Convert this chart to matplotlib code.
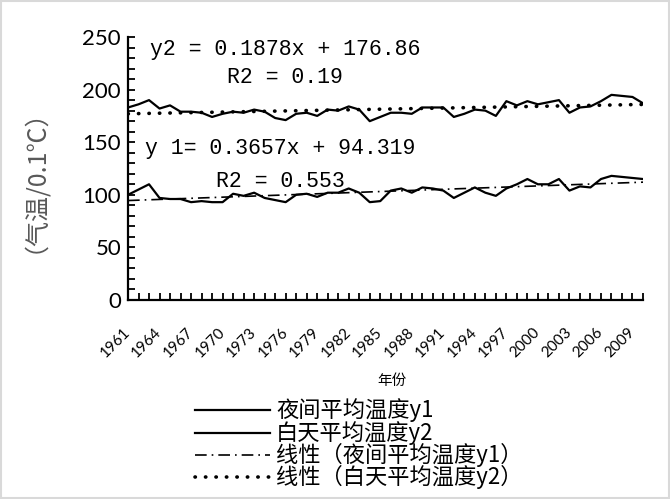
import numpy as np
import matplotlib
matplotlib.use('Agg')
import matplotlib.pyplot as plt
from matplotlib.ticker import MultipleLocator, FixedLocator
from matplotlib.lines import Line2D
from matplotlib.patches import Rectangle

# data (0.1 degC)
years = list(range(1961, 2011))
night_y1 = [100, 105, 110, 97, 96, 96, 93, 94, 93, 93,
            101, 99, 102, 97, 95, 93, 100, 101, 98, 102,
            102, 106, 102, 93, 94, 104, 106, 102, 107, 106,
            104, 97, 102, 107, 102, 99, 106, 110, 115, 110,
            110, 115, 104, 108, 107, 115, 118, 117, 116, 115]
day_y2 = [183, 186, 190, 182, 185, 179, 179, 178, 174, 177,
          179, 178, 181, 179, 173, 171, 177, 178, 175, 181,
          180, 184, 181, 170, 174, 178, 178, 177, 183, 183,
          183, 174, 177, 181, 180, 175, 189, 185, 189, 186,
          188, 190, 178, 183, 184, 189, 195, 194, 193, 187]
tick_years = list(range(1961, 2010, 3))

eq2 = "y2 = 0.1878x + 176.86"
r2_2 = "R2 = 0.19"
eq1 = "y 1= 0.3657x + 94.319"
r2_1 = "R2 = 0.553"

labels = ['夜间平均温度y1', '白天平均温度y2',
          '线性（夜间平均温度y1）', '线性（白天平均温度y2）']

cjk = ['Noto Sans CJK SC', 'DejaVu Sans']

fig = plt.figure(figsize=(6.7, 4.99), dpi=100)
fig.patches.append(Rectangle((0.002, 0.002), 0.996, 0.996, transform=fig.transFigure,
                             fill=False, edgecolor='#d9d9d9', linewidth=1.5))
ax = fig.add_axes([128/670, 1-300/499, (643-128)/670, (300-37)/499])

x = np.array(years)
y1 = np.array(night_y1)
y2 = np.array(day_y2)

# trend lines fitted on the series (Excel style, x = 1..n)
n = np.arange(1, len(years)+1)
p1 = np.polyfit(n, y1, 1)
p2 = np.polyfit(n, y2, 1)

styles = [dict(color='black', lw=1.6, linestyle='-'),
          dict(color='black', lw=1.6, linestyle='-'),
          dict(color='black', lw=1.2, linestyle=(0, (7, 3, 1, 3))),
          dict(color='black', lw=2.6, linestyle=(0, (0.1, 2.8)), dash_capstyle='round')]

ax.plot(x, y1, **styles[0])
ax.plot(x, y2, **styles[1])
ax.plot(x, np.polyval(p1, n), **styles[2])
ax.plot(x, np.polyval(p2, n), **styles[3])

ax.set_xlim(1961, 2010)
ax.set_ylim(0, 250)
ax.yaxis.set_major_locator(MultipleLocator(50))
ax.yaxis.set_minor_locator(MultipleLocator(10))
ax.xaxis.set_major_locator(FixedLocator(tick_years))
ax.xaxis.set_minor_locator(MultipleLocator(1))
ax.set_xticklabels([str(t) for t in tick_years], rotation=45, ha='right', va='center',
                   rotation_mode='anchor', fontsize=11, family='Lato')
for t in ax.get_yticklabels():
    t.set_family('Lato')
    t.set_fontsize(16)
ax.tick_params(axis='both', which='both', direction='in', width=1.3, length=5)
ax.tick_params(axis='y', pad=5)
ax.tick_params(axis='x', pad=22)
for s in ['top', 'right']:
    ax.spines[s].set_visible(False)
for s in ['left', 'bottom']:
    ax.spines[s].set_linewidth(1.6)

tf = dict(family='Liberation Mono', fontsize=15.5, color='black', va='center', ha='left')
fig.text(150/670, 1-50/499, eq2, **tf)
fig.text(227/670, 1-78/499, r2_2, **tf)
fig.text(145/670, 1-148/499, eq1, **tf)
fig.text(216/670, 1-182/499, r2_1, **tf)

fig.text(22/670, 1-168/499, '（气温/0.1℃）', rotation=90, ha='center', va='center',
         fontsize=18, color='#595959', family=cjk)
fig.text(392/670, 1-381/499, '年份', ha='center', va='center', fontsize=10.5, family=cjk)

# legend drawn row by row below the axes
row_y = [410, 433, 455, 477]
for st, lab, ry in zip(styles, labels, row_y):
    fig.add_artist(Line2D([195/670, 270/670], [1-ry/499, 1-ry/499], **st))
    fig.text(276/670, 1-ry/499, lab, ha='left', va='center', fontsize=16, family=cjk)

fig.savefig('out.png', dpi=100)
